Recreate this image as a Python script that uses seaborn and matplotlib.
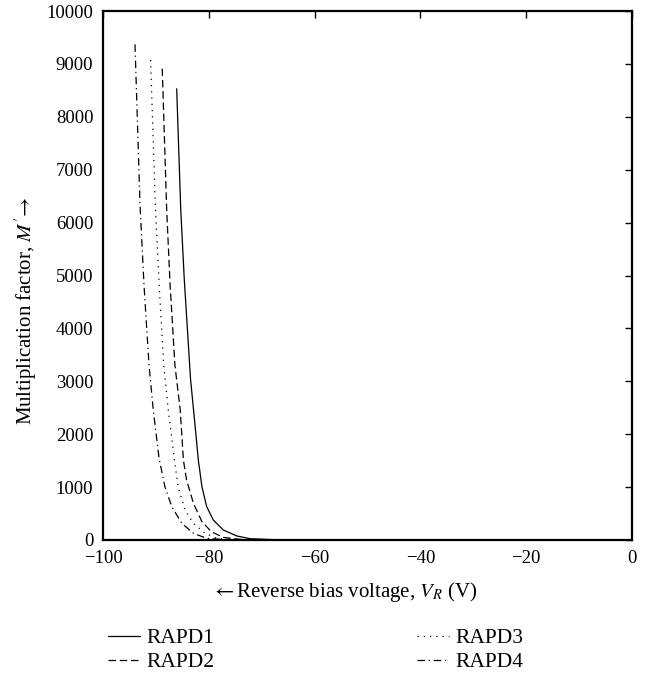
import numpy as np
import pandas as pd
import matplotlib
matplotlib.use("Agg")
import matplotlib.pyplot as plt
import seaborn as sns

# Data (reverse bias voltage V, multiplication factor M')
rapd1_v = [-86.07, -85.3, -84.63, -83.45, -82.7, -81.98, -81.3, -80.4, -79.15, -77.26, -74.7, -72.2, -68, -60, -40, -20, 0]
rapd1_m = [8530, 6240, 4915, 3040, 2270, 1512, 1008, 630, 378, 189, 76, 25, 8, 3, 1.5, 1.2, 1.0]

rapd2_v = [-88.8, -87.96, -87.33, -86.4, -85.4, -84.8, -84.2, -82.9, -81.3, -79.5, -77.3, -74, -70, -60, -40, -20, 0]
rapd2_m = [8910, 6240, 4850, 3300, 2457, 1512, 1134, 693, 346, 157, 50, 12, 5, 2, 1.3, 1.1, 1.0]

rapd3_v = [-91.0, -90.1, -89.4, -88.55, -87.66, -86.5, -85.8, -84.5, -82.9, -80.7, -78.5, -75, -70, -60, -40, -20, 0]
rapd3_m = [9074, 6300, 4850, 3340, 2457, 1512, 1008, 567, 315, 126, 32, 8, 4, 2, 1.3, 1.1, 1.0]

rapd4_v = [-93.95, -93.0, -92.25, -91.3, -90.5, -89.4, -88.3, -87.0, -85.1, -82.9, -80.4, -77, -70, -60, -40, -20, 0]
rapd4_m = [9370, 6333, 4820, 3308, 2457, 1544, 1008, 630, 315, 126, 32, 8, 3, 2, 1.3, 1.1, 1.0]

labels = ["RAPD1", "RAPD2", "RAPD3", "RAPD4"]
x_ticks = [-100, -80, -60, -40, -20, 0]
y_ticks = [0, 1000, 2000, 3000, 4000, 5000, 6000, 7000, 8000, 9000, 10000]

sns.set_theme(style="white")
plt.rcParams["font.family"] = ["Liberation Serif", "DejaVu Serif"]
plt.rcParams["mathtext.fontset"] = "stix"
plt.rcParams["axes.unicode_minus"] = True
plt.rcParams["text.color"] = "black"
plt.rcParams["axes.labelcolor"] = "black"

W, H = 658, 674
fig = plt.figure(figsize=(W / 100, H / 100), dpi=100)
ax = fig.add_axes([103 / W, 1 - 540 / H, (632 - 103) / W, (540 - 11) / H])

styles = ["-", (0, (6, 3)), (0, (1, 4)), (0, (6, 3, 1, 3))]
series = [(rapd1_v, rapd1_m), (rapd2_v, rapd2_m), (rapd3_v, rapd3_m), (rapd4_v, rapd4_m)]
for (v, m), ls, lab in zip(series, styles, labels):
    df = pd.DataFrame({"V": v, "M": m})
    sns.lineplot(data=df, x="V", y="M", ax=ax, color="black", linestyle=ls,
                 linewidth=0.9, estimator=None, sort=False, legend=False)

ax.set_xlim(-100, 0)
ax.set_ylim(0, 10000)
ax.set_xticks(x_ticks)
ax.set_yticks(y_ticks)
ax.set_xticklabels([("\u2212" + str(abs(t))) if t < 0 else str(t) for t in x_ticks])
ax.set_yticklabels([str(t) for t in y_ticks])
ax.tick_params(axis="both", direction="in", length=5, width=1.0, top=True, right=True,
               labelsize=13.5, colors="black")
ax.tick_params(axis="x", pad=7)
ax.tick_params(axis="y", pad=7)
for s in ax.spines.values():
    s.set_color("black")
    s.set_linewidth(1.6)

ax.set_xlabel(r"$\leftarrow$Reverse bias voltage, $V_R$ (V)", fontsize=15, color="black")
ax.xaxis.set_label_coords((344 - 103) / 529, (540 - 592) / 529)
ax.xaxis.label.set_va("center")
ax.set_ylabel(r"Multiplication factor, $M'\!\rightarrow$", fontsize=15, color="black")
ax.yaxis.set_label_coords((26 - 103) / 529, (540 - 311) / 529)
ax.yaxis.label.set_va("center")
ax.yaxis.label.set_ha("center")

handles = ax.get_lines()[:4]
leg = fig.legend(handles, labels, loc="upper left", bbox_to_anchor=(108 / W, 1 - 628 / H),
                 ncol=2, frameon=False, fontsize=15.5, handlelength=1.5, handletextpad=0.3,
                 columnspacing=9.4, labelspacing=0.2, borderpad=0, borderaxespad=0)
for t in leg.get_texts():
    t.set_color("black")

fig.savefig("out.png", dpi=100)
